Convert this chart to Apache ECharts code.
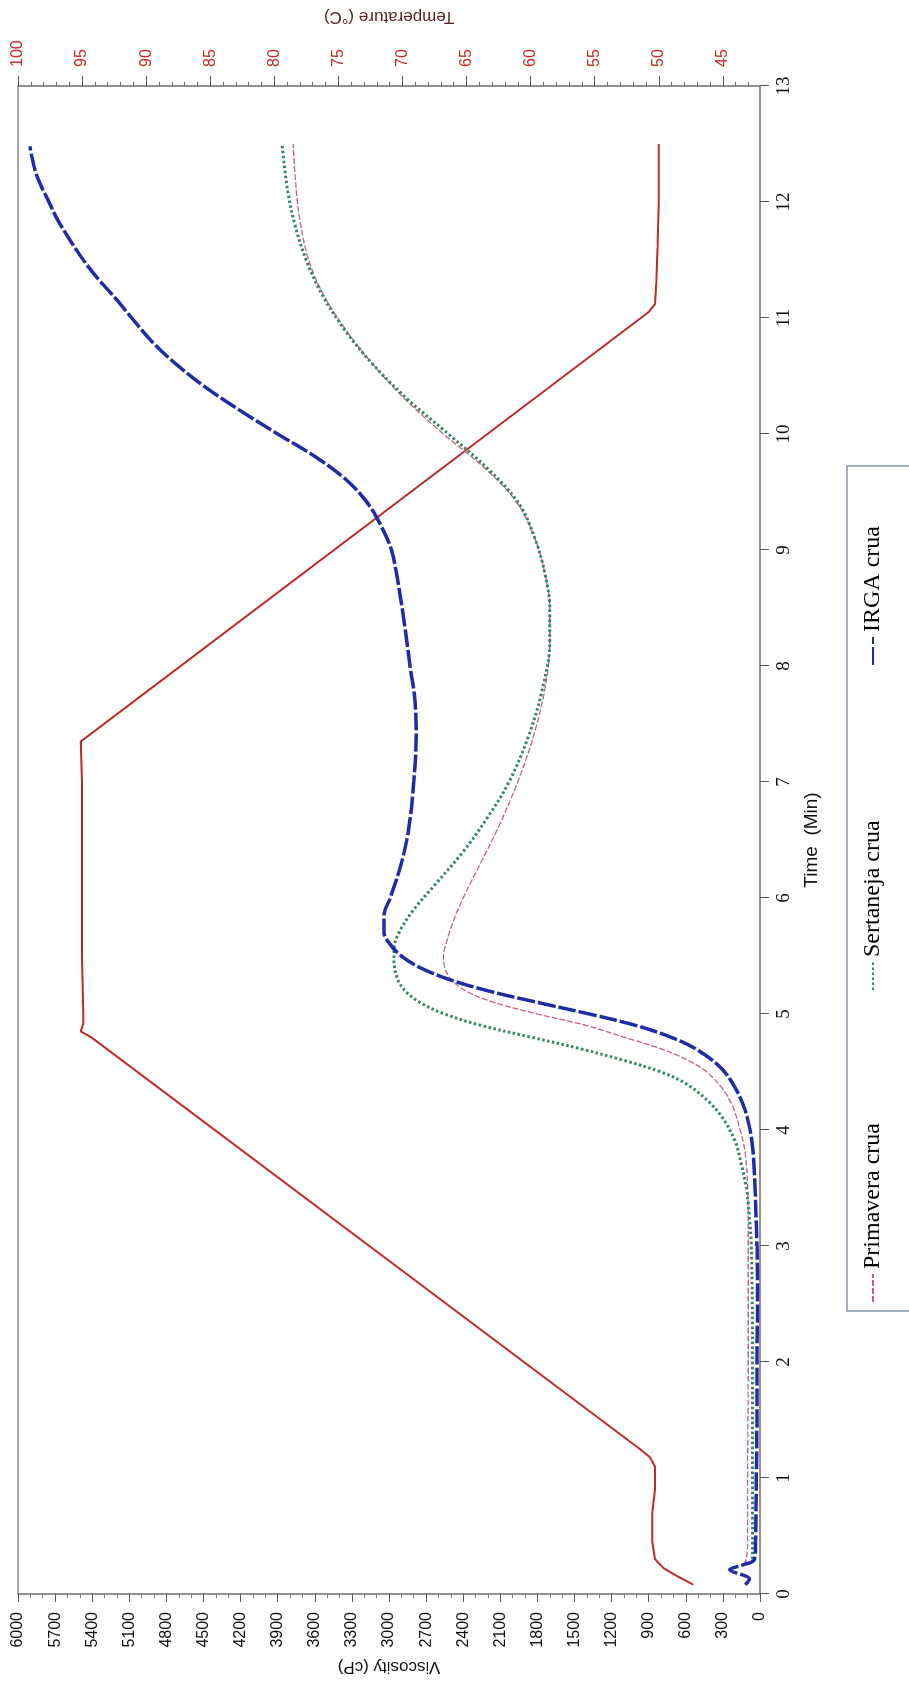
<!DOCTYPE html>
<html>
<head>
<meta charset="utf-8">
<script src="https://cdn.jsdelivr.net/npm/echarts@6.0.0/dist/echarts.min.js"></script>
<style>
  html, body { margin: 0; padding: 0; width: 909px; height: 1684px; overflow: hidden; background: #fff; }
  /* the RVA plot is laid out landscape, then turned a quarter turn counter-clockwise */
  #chart { position: absolute; left: 0; top: 0; width: 1684px; height: 909px;
           transform-origin: 0 0; transform: translate(0, 1684px) rotate(-90deg); }
</style>
</head>
<body>
<div id="chart"></div>
<script>
// Viscosity (cP) vs time (min) for each raw rice flour
const timeIRGA = [0.08, 0.13, 0.21, 0.25, 0.30, 0.5, 1.0, 1.5, 2.0, 2.5, 3.0, 3.5, 3.8, 4.0, 4.2, 4.4, 4.55, 4.7, 4.8, 4.9, 5.0, 5.1, 5.2, 5.3, 5.4, 5.5, 5.6, 5.7, 5.85, 6.0, 6.3, 6.6, 7.0, 7.4, 7.7, 8.0, 8.4, 8.8, 9.0, 9.2, 9.4, 9.6, 9.8, 10.0, 10.2, 10.4, 10.6, 10.8, 11.0, 11.13, 11.44, 11.81, 12.0, 12.22, 12.4, 12.48];
const viscIRGA = [120, 85, 245, 140, 45, 35, 30, 25, 25, 20, 25, 40, 55, 80, 130, 220, 330, 520, 720, 1000, 1380, 1800, 2200, 2520, 2750, 2900, 2990, 3040, 3040, 2990, 2900, 2840, 2800, 2780, 2790, 2830, 2880, 2940, 2980, 3060, 3170, 3340, 3590, 3900, 4200, 4480, 4720, 4920, 5080, 5180, 5430, 5660, 5750, 5846, 5890, 5903];

const timeSertaneja = [0.3, 1.0, 2.0, 3.0, 3.3, 3.5, 3.7, 3.9, 4.1, 4.25, 4.4, 4.5, 4.6, 4.7, 4.8, 4.9, 5.0, 5.1, 5.2, 5.3, 5.45, 5.55, 5.7, 5.9, 6.1, 6.4, 6.7, 7.0, 7.4, 7.8, 8.2, 8.5, 8.8, 9.1, 9.4, 9.7, 10.0, 10.3, 10.6, 10.9, 11.2, 11.5, 11.8, 12.1, 12.5];
const viscSertaneja = [60, 60, 60, 70, 90, 110, 150, 200, 300, 420, 600, 800, 1100, 1450, 1850, 2250, 2550, 2750, 2870, 2930, 2960, 2960, 2920, 2800, 2640, 2400, 2200, 2030, 1870, 1760, 1700, 1700, 1740, 1820, 1950, 2200, 2520, 2850, 3130, 3360, 3540, 3670, 3760, 3820, 3865];

const timePrimavera = [0.25, 0.3, 0.5, 1.0, 2.0, 3.0, 3.5, 3.8, 4.0, 4.2, 4.35, 4.5, 4.6, 4.7, 4.8, 4.9, 5.0, 5.1, 5.2, 5.3, 5.4, 5.5, 5.6, 5.8, 6.0, 6.3, 6.6, 7.0, 7.4, 7.8, 8.2, 8.5, 8.8, 9.1, 9.4, 9.7, 10.0, 10.3, 10.6, 10.9, 11.2, 11.5, 11.84, 12.1, 12.5];
const viscPrimavera = [130, 110, 100, 100, 95, 95, 100, 120, 160, 220, 300, 430, 580, 800, 1100, 1400, 1800, 2150, 2380, 2500, 2550, 2560, 2540, 2480, 2400, 2260, 2120, 1960, 1830, 1740, 1700, 1700, 1740, 1820, 1960, 2220, 2560, 2870, 3130, 3350, 3530, 3650, 3720, 3750, 3776];

// Temperature profile (°C)
const timeTemp = [0.08, 0.15, 0.22, 0.3, 0.45, 0.7, 0.9, 1.1, 1.18, 1.26, 4.80, 4.85, 4.92, 5.0, 5.5, 6.0, 6.5, 7.0, 7.35, 11.05, 11.12, 11.3, 11.6, 12.0, 12.5];
const tempValues = [47.3, 48.5, 49.6, 50.3, 50.5, 50.5, 50.3, 50.3, 50.7, 51.6, 94.3, 95.1, 94.9, 94.9, 95.0, 95.0, 95.0, 95.0, 95.1, 50.8, 50.3, 50.2, 50.1, 50.0, 50.0];

// Axis ticks
const timeTicks = { min: 0, max: 13, step: 1 };
const viscTicks = { min: 0, max: 6000, step: 300 };
const tempLabels = [45, 50, 55, 60, 65, 70, 75, 80, 85, 90, 95, 100];
const tempMinor = [43, 44, 46, 47, 48, 49, 51, 52, 53, 54, 56, 57, 58, 59, 61, 62, 63, 64, 66, 67, 68, 69, 71, 72, 73, 74, 76, 77, 78, 79, 81, 82, 83, 84, 86, 87, 88, 89, 91, 92, 93, 94, 96, 97, 98, 99];
const tempRange = [42.1, 100];

const seriesNames = ['Primavera crua', 'Sertaneja crua', 'IRGA crua'];

const zip = (xs, ys) => xs.map((x, i) => [x, ys[i]]);

const el = document.getElementById('chart');
const chart = echarts.init(el, null, { renderer: 'canvas', width: 1684, height: 909 });

const axisGrey = '#8a8a8a';
const tempRed = '#c42a22';
const sans = 'Liberation Sans';
const serif = 'Liberation Serif';
const plain = v => String(Math.round(v));

function legendAt(name, left) {
  return {
    data: [name], left: left, top: 861, padding: 0, orient: 'horizontal',
    itemWidth: 28, itemHeight: 14, selectedMode: false,
    itemStyle: { opacity: 0 },
    textStyle: { fontFamily: serif, fontSize: 24, color: '#000' }
  };
}

chart.setOption({
  animation: false,
  backgroundColor: '#fff',
  grid: { left: 90, right: 82, top: 18, bottom: 149, show: true, borderColor: axisGrey, borderWidth: 1.5, backgroundColor: '#fff' },
  legend: [legendAt(seriesNames[0], 381), legendAt(seriesNames[1], 693), legendAt(seriesNames[2], 1018)],
  graphic: [{
    type: 'rect', silent: true, z: 0,
    shape: { x: 373, y: 847, width: 845, height: 100 },
    style: { fill: 'none', stroke: '#8796a5', lineWidth: 1.5 }
  }],
  xAxis: [{
    type: 'value', min: timeTicks.min, max: timeTicks.max, interval: timeTicks.step, position: 'bottom',
    name: 'Time  (Min)', nameLocation: 'middle', nameGap: 42,
    nameTextStyle: { fontFamily: sans, fontSize: 19, color: '#111' },
    axisLine: { show: true, lineStyle: { color: axisGrey, width: 1.5 } },
    axisTick: { show: true, inside: false, length: 9, lineStyle: { color: '#555' } },
    axisLabel: { fontFamily: serif, fontSize: 19, color: '#111', margin: 15, formatter: plain },
    splitLine: { show: false }
  }],
  yAxis: [{
    type: 'value', min: viscTicks.min, max: viscTicks.max, interval: viscTicks.step, position: 'left',
    name: 'Viscosity (cP)', nameLocation: 'middle', nameRotate: 90, nameGap: 63,
    nameTextStyle: { fontFamily: sans, fontSize: 17, color: '#111' },
    axisLine: { show: true, lineStyle: { color: axisGrey, width: 1.5 } },
    axisTick: { show: true, inside: false, length: 8, lineStyle: { color: '#555' } },
    minorTick: { show: true, splitNumber: 3, length: 4, lineStyle: { color: '#777' } },
    axisLabel: { fontFamily: sans, fontSize: 16, color: '#111', margin: 18, formatter: plain },
    splitLine: { show: false }
  }, {
    type: 'value', min: tempRange[0], max: tempRange[1], position: 'right',
    name: 'Temperature (°C)', nameLocation: 'middle', nameRotate: 90, nameGap: 61,
    nameTextStyle: { fontFamily: sans, fontSize: 17, color: '#5a1e1e' },
    axisLine: { show: true, lineStyle: { color: axisGrey, width: 1.5 } },
    axisTick: { show: true, inside: false, length: 10, customValues: tempLabels, lineStyle: { color: '#555' } },
    axisLabel: { fontFamily: sans, fontSize: 16, color: tempRed, margin: 19, customValues: tempLabels, formatter: plain },
    splitLine: { show: false }
  }, {
    type: 'value', min: tempRange[0], max: tempRange[1], position: 'right',
    axisLine: { show: false },
    axisTick: { show: true, inside: false, length: 4, customValues: tempMinor, lineStyle: { color: '#666' } },
    axisLabel: { show: false },
    splitLine: { show: false }
  }],
  series: [{
    name: 'Temperature', type: 'line', xAxisIndex: 0, yAxisIndex: 1,
    data: zip(timeTemp, tempValues), symbol: 'none', z: 2,
    lineStyle: { color: '#bb2b25', width: 2 }
  }, {
    name: seriesNames[0], type: 'line', xAxisIndex: 0, yAxisIndex: 0,
    data: zip(timePrimavera, viscPrimavera), symbol: 'none', smooth: 0.35, z: 3,
    itemStyle: { color: '#c8607f' },
    lineStyle: { color: '#c8607f', width: 1.3, type: [6, 2] }
  }, {
    name: seriesNames[1], type: 'line', xAxisIndex: 0, yAxisIndex: 0,
    data: zip(timeSertaneja, viscSertaneja), symbol: 'none', smooth: 0.35, z: 4,
    itemStyle: { color: '#2f8a5c' },
    lineStyle: { color: '#2f8a5c', width: 3, type: [2.5, 2.5] }
  }, {
    name: seriesNames[2], type: 'line', xAxisIndex: 0, yAxisIndex: 0,
    data: zip(timeIRGA, viscIRGA), symbol: 'none', smooth: 0.35, z: 5,
    itemStyle: { color: '#1e2ca6' },
    lineStyle: { color: '#1e2ca6', width: 3.5, type: [18, 3] }
  }]
});
</script>
</body>
</html>
